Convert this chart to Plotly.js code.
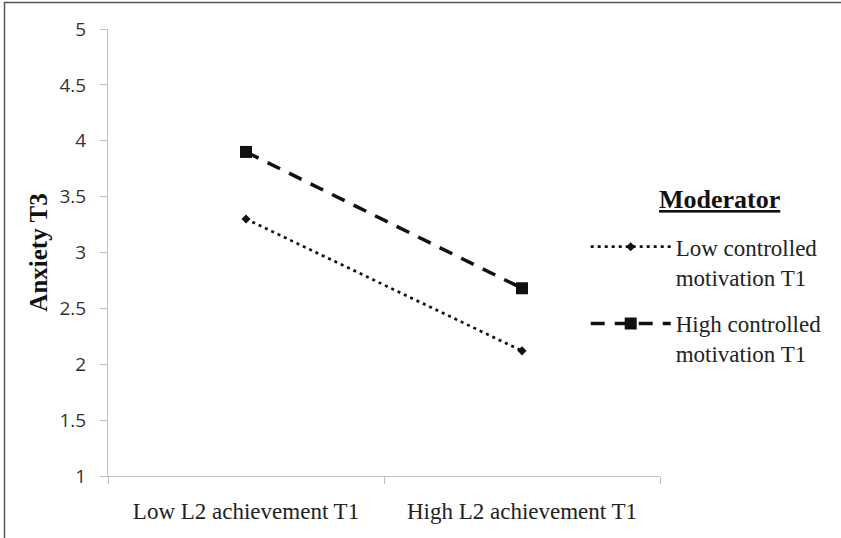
<!DOCTYPE html>
<html>
<head>
<meta charset="utf-8">
<script src="https://cdn.plot.ly/plotly-3.0.1.min.js"></script>
<style>html,body{margin:0;padding:0;background:#fff;}#chart{width:841px;height:538px;}</style>
</head>
<body>
<div id="chart"></div>
<script>
// ---- data ----
var categories = ["Low L2 achievement T1", "High L2 achievement T1"];
var seriesNames = ["Low controlled<br>motivation T1", "High controlled<br>motivation T1"];
var lowControlled = [3.30, 2.12];
var highControlled = [3.90, 2.68];
var yTickValues = [1, 1.5, 2, 2.5, 3, 3.5, 4, 4.5, 5];
var yTickLabels = ["1", "1.5", "2", "2.5", "3", "3.5", "4", "4.5", "5"];
var legendHeading = "Moderator";

var serif = "'Liberation Serif', 'Times New Roman', serif";
var sans = "'Open Sans', 'Noto Sans', sans-serif";

var traces = [
  {
    x: categories, y: lowControlled, name: seriesNames[0], type: "scatter", mode: "lines+markers",
    legendgroup: "a",
    line: {color: "#111", width: 2.7, dash: "3px,4px"},
    marker: {symbol: "diamond", size: 7, color: "#111"}
  },
  {
    x: categories, y: highControlled, name: seriesNames[1], type: "scatter", mode: "lines+markers",
    legendgroup: "b",
    line: {color: "#111", width: 3.5, dash: "14px,10px"},
    marker: {symbol: "square", size: 12, color: "#111"}
  }
];

var layout = {
  width: 841, height: 538,
  margin: {l: 108, r: 181, t: 29, b: 62},
  paper_bgcolor: "#fff", plot_bgcolor: "#fff",
  showlegend: true,
  xaxis: {
    type: "category",
    range: [-0.5, 1.5],
    tickson: "boundaries",
    ticks: "outside", ticklen: 7, tickcolor: "#bfbfbf", tickwidth: 1,
    showline: true, linecolor: "#bfbfbf", linewidth: 1,
    showgrid: false, zeroline: false,
    tickfont: {family: serif, size: 23, color: "#222"},
    ticklabelstandoff: 14,
    fixedrange: true
  },
  yaxis: {
    range: [1, 5],
    tickvals: yTickValues, ticktext: yTickLabels,
    ticks: "outside", ticklen: 7, tickcolor: "#bfbfbf", tickwidth: 1,
    showline: true, linecolor: "#bfbfbf", linewidth: 1,
    showgrid: false, zeroline: false,
    tickfont: {family: sans, size: 19, color: "#333"},
    ticklabelposition: "outside",
    ticklabelstandoff: 10,
    title: {text: "<b>Anxiety T3</b>", font: {family: serif, size: 25, color: "#111"}, standoff: 4},
    fixedrange: true
  },
  legend: {
    x: 0.8654, xanchor: "left",
    y: 0.561, yanchor: "top",
    bgcolor: "rgba(0,0,0,0)",
    font: {family: serif, size: 23, color: "#222"},
    valign: "top",
    itemwidth: 80,
    tracegroupgap: 14,
    itemclick: false, itemdoubleclick: false
  },
  annotations: [
    {text: "<b><u>" + legendHeading + "</u></b>", xref: "paper", yref: "paper",
     x: (719 - 108) / 552, y: (476 - 199) / 447, xanchor: "center", yanchor: "middle",
     showarrow: false, font: {family: serif, size: 26, color: "#111"}}
  ],
  shapes: [
    {type: "rect", xref: "paper", yref: "paper",
     x0: (4.5 - 108) / 552, x1: (850 - 108) / 552,
     y0: (476 - 550) / 447, y1: 1 + (29 - 2.5) / 447,
     line: {color: "#555", width: 1.5}, fillcolor: "rgba(0,0,0,0)", layer: "below"}
  ]
};

Plotly.newPlot("chart", traces, layout, {displayModeBar: false, staticPlot: true});
</script>
</body>
</html>
